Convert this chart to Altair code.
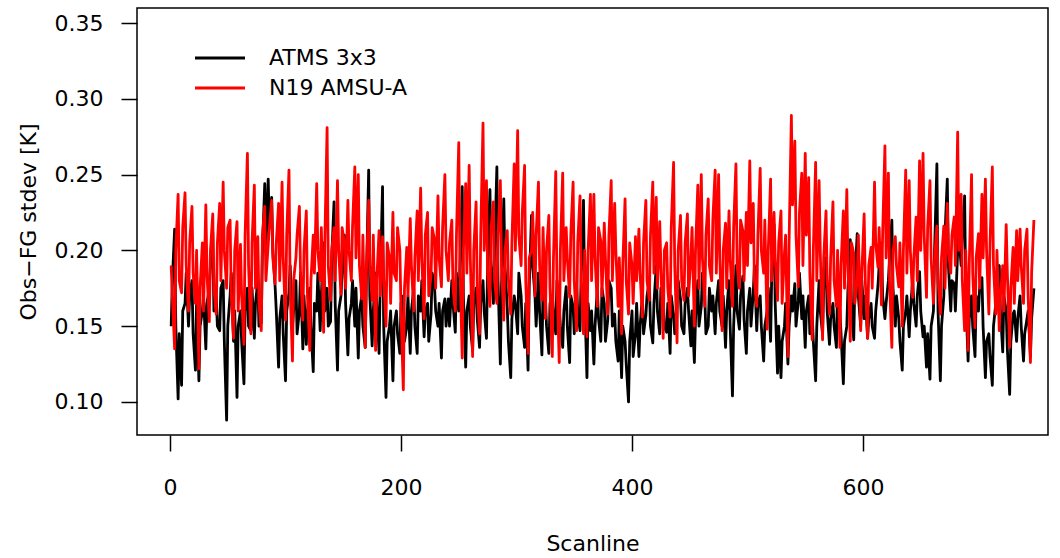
import altair as alt
import pandas as pd

# Values: main samples at scanlines 1, 4, 7, ... and
# in-between samples at scanlines 2, 5, 8, ...
names = ["ATMS 3x3", "N19 AMSU-A"]
colors = ["#000000", "#ff0000"]

atms = [
    0.150, 0.214, 0.102, 0.111, 0.165, 0.150, 0.180, 0.121, 0.114, 0.160,
    0.135, 0.175, 0.212, 0.170, 0.147, 0.180, 0.088, 0.170, 0.140, 0.103,
    0.160, 0.112, 0.175, 0.147, 0.142, 0.180, 0.152, 0.244, 0.247, 0.235,
    0.176, 0.123, 0.170, 0.114, 0.172, 0.150, 0.180, 0.160, 0.135, 0.138,
    0.175, 0.120, 0.160, 0.147, 0.205, 0.175, 0.153, 0.232, 0.121, 0.170,
    0.210, 0.131, 0.165, 0.150, 0.129, 0.170, 0.136, 0.253, 0.137, 0.185,
    0.132, 0.242, 0.103, 0.150, 0.114, 0.160, 0.132, 0.170, 0.150, 0.132,
    0.175, 0.132, 0.160, 0.143, 0.165, 0.158, 0.176, 0.150, 0.129, 0.168,
    0.168, 0.180, 0.146, 0.160, 0.242, 0.123, 0.170, 0.134, 0.175, 0.136,
    0.180, 0.142, 0.240, 0.165, 0.255, 0.125, 0.234, 0.162, 0.116, 0.170,
    0.145, 0.170, 0.136, 0.121, 0.223, 0.170, 0.185, 0.131, 0.170, 0.132,
    0.170, 0.145, 0.163, 0.136, 0.176, 0.126, 0.163, 0.177, 0.147, 0.233,
    0.116, 0.147, 0.125, 0.175, 0.140, 0.165, 0.154, 0.175, 0.158, 0.127,
    0.116, 0.140, 0.100, 0.160, 0.145, 0.130, 0.170, 0.157, 0.180, 0.139,
    0.190, 0.145, 0.170, 0.146, 0.132, 0.157, 0.165, 0.168, 0.145, 0.175,
    0.137, 0.126, 0.180, 0.163, 0.170, 0.150, 0.160, 0.145, 0.180, 0.150,
    0.136, 0.180, 0.104, 0.190, 0.148, 0.183, 0.132, 0.175, 0.172, 0.147,
    0.170, 0.127, 0.160, 0.140, 0.217, 0.119, 0.116, 0.150, 0.125, 0.170,
    0.178, 0.167, 0.155, 0.136, 0.170, 0.158, 0.114, 0.180, 0.145, 0.195,
    0.138, 0.165, 0.136, 0.160, 0.112, 0.150, 0.207, 0.141, 0.211, 0.150,
    0.155, 0.142, 0.165, 0.142, 0.177, 0.205, 0.155, 0.180, 0.220, 0.150,
    0.155, 0.121, 0.160, 0.143, 0.180, 0.150, 0.186, 0.143, 0.123, 0.115,
    0.160, 0.257, 0.114, 0.170, 0.247, 0.160, 0.178, 0.200, 0.190, 0.236,
    0.127, 0.170, 0.130, 0.160, 0.182, 0.116, 0.145, 0.111, 0.165, 0.190,
    0.133, 0.160, 0.105, 0.158, 0.140, 0.170, 0.127, 0.155, 0.130, 0.175,
]

atms_mid = [
    0.180, 0.150, 0.145, 0.160, 0.185, 0.170, 0.145, 0.165, 0.150, 0.170,
    0.165, 0.190, 0.160, 0.150, 0.175, 0.140, 0.150, 0.185, 0.160, 0.150,
    0.140, 0.160, 0.150, 0.175, 0.165, 0.150, 0.200, 0.200, 0.215, 0.200,
    0.160, 0.155, 0.145, 0.160, 0.190, 0.160, 0.145, 0.185, 0.170, 0.160,
    0.150, 0.165, 0.185, 0.170, 0.160, 0.150, 0.195, 0.165, 0.160, 0.185,
    0.165, 0.155, 0.180, 0.175, 0.160, 0.150, 0.180, 0.170, 0.160, 0.165,
    0.180, 0.150, 0.140, 0.160, 0.150, 0.145, 0.165, 0.140, 0.170, 0.160,
    0.150, 0.170, 0.180, 0.160, 0.140, 0.185, 0.160, 0.165, 0.160, 0.150,
    0.150, 0.165, 0.185, 0.190, 0.170, 0.160, 0.150, 0.165, 0.155, 0.165,
    0.160, 0.190, 0.190, 0.200, 0.180, 0.175, 0.190, 0.140, 0.155, 0.165,
    0.185, 0.150, 0.165, 0.175, 0.190, 0.150, 0.160, 0.175, 0.150, 0.165,
    0.160, 0.180, 0.150, 0.160, 0.150, 0.170, 0.145, 0.160, 0.185, 0.170,
    0.165, 0.160, 0.150, 0.155, 0.175, 0.140, 0.180, 0.150, 0.140, 0.160,
    0.150, 0.125, 0.140, 0.130, 0.165, 0.150, 0.145, 0.170, 0.150, 0.165,
    0.160, 0.175, 0.150, 0.165, 0.170, 0.145, 0.180, 0.150, 0.165, 0.160,
    0.160, 0.155, 0.150, 0.185, 0.145, 0.175, 0.170, 0.165, 0.160, 0.170,
    0.160, 0.150, 0.150, 0.160, 0.170, 0.155, 0.160, 0.150, 0.190, 0.165,
    0.150, 0.150, 0.175, 0.185, 0.165, 0.150, 0.140, 0.165, 0.150, 0.160,
    0.150, 0.185, 0.170, 0.160, 0.145, 0.140, 0.150, 0.160, 0.175, 0.160,
    0.155, 0.150, 0.175, 0.145, 0.140, 0.175, 0.165, 0.180, 0.170, 0.180,
    0.170, 0.155, 0.150, 0.160, 0.190, 0.170, 0.165, 0.195, 0.175, 0.170,
    0.140, 0.150, 0.170, 0.160, 0.165, 0.170, 0.160, 0.150, 0.145, 0.150,
    0.200, 0.160, 0.150, 0.210, 0.190, 0.180, 0.160, 0.210, 0.210, 0.170,
    0.155, 0.150, 0.170, 0.175, 0.150, 0.140, 0.130, 0.150, 0.180, 0.160,
    0.170, 0.135, 0.140, 0.160, 0.155, 0.150, 0.145, 0.160, 0.155,
]

n19 = [
    0.190, 0.135, 0.237, 0.172, 0.238, 0.160, 0.229, 0.165, 0.122, 0.205,
    0.230, 0.153, 0.224, 0.158, 0.231, 0.245, 0.175, 0.220, 0.142, 0.219,
    0.204, 0.138, 0.264, 0.145, 0.243, 0.209, 0.147, 0.229, 0.204, 0.233,
    0.178, 0.231, 0.245, 0.154, 0.253, 0.127, 0.195, 0.229, 0.154, 0.226,
    0.134, 0.210, 0.244, 0.180, 0.146, 0.281, 0.167, 0.215, 0.246, 0.171,
    0.205, 0.233, 0.180, 0.255, 0.250, 0.168, 0.136, 0.233, 0.167, 0.134,
    0.213, 0.209, 0.150, 0.195, 0.225, 0.180, 0.200, 0.108, 0.202, 0.221,
    0.160, 0.226, 0.241, 0.155, 0.225, 0.183, 0.207, 0.236, 0.176, 0.250,
    0.180, 0.220, 0.160, 0.271, 0.129, 0.244, 0.256, 0.130, 0.232, 0.145,
    0.284, 0.246, 0.163, 0.232, 0.165, 0.246, 0.154, 0.213, 0.158, 0.257,
    0.279, 0.190, 0.256, 0.132, 0.200, 0.170, 0.245, 0.167, 0.155, 0.223,
    0.130, 0.252, 0.126, 0.251, 0.215, 0.169, 0.245, 0.147, 0.236, 0.145,
    0.143, 0.237, 0.237, 0.163, 0.206, 0.218, 0.158, 0.246, 0.231, 0.163,
    0.145, 0.234, 0.158, 0.190, 0.209, 0.214, 0.156, 0.233, 0.167, 0.245,
    0.235, 0.219, 0.142, 0.205, 0.156, 0.258, 0.139, 0.223, 0.167, 0.224,
    0.196, 0.150, 0.243, 0.250, 0.163, 0.234, 0.180, 0.253, 0.250, 0.147,
    0.218, 0.226, 0.163, 0.257, 0.175, 0.213, 0.225, 0.259, 0.231, 0.163,
    0.254, 0.185, 0.148, 0.247, 0.225, 0.167, 0.226, 0.198, 0.130, 0.289,
    0.272, 0.176, 0.251, 0.264, 0.248, 0.141, 0.258, 0.246, 0.141, 0.226,
    0.158, 0.232, 0.163, 0.136, 0.226, 0.240, 0.140, 0.198, 0.180, 0.147,
    0.224, 0.142, 0.202, 0.245, 0.189, 0.164, 0.269, 0.251, 0.136, 0.209,
    0.176, 0.150, 0.253, 0.246, 0.169, 0.222, 0.259, 0.264, 0.169, 0.246,
    0.165, 0.216, 0.158, 0.216, 0.231, 0.185, 0.222, 0.278, 0.237, 0.147,
    0.134, 0.250, 0.149, 0.211, 0.237, 0.247, 0.158, 0.255, 0.158, 0.147,
    0.190, 0.217, 0.136, 0.202, 0.213, 0.214, 0.165, 0.214, 0.126, 0.220,
]

n19_mid = [
    0.170, 0.200, 0.180, 0.215, 0.190, 0.205, 0.185, 0.200, 0.175, 0.160,
    0.185, 0.200, 0.175, 0.205, 0.180, 0.200, 0.215, 0.170, 0.200, 0.160,
    0.170, 0.210, 0.190, 0.205, 0.175, 0.165, 0.210, 0.180, 0.215, 0.195,
    0.205, 0.180, 0.195, 0.210, 0.175, 0.180, 0.210, 0.185, 0.200, 0.170,
    0.180, 0.185, 0.200, 0.215, 0.205, 0.190, 0.200, 0.180, 0.200, 0.215,
    0.175, 0.200, 0.215, 0.195, 0.190, 0.210, 0.185, 0.190, 0.210, 0.180,
    0.170, 0.180, 0.205, 0.165, 0.185, 0.215, 0.160, 0.175, 0.170, 0.190,
    0.195, 0.180, 0.195, 0.210, 0.170, 0.215, 0.175, 0.195, 0.215, 0.200,
    0.205, 0.175, 0.210, 0.190, 0.200, 0.185, 0.195, 0.200, 0.175, 0.210,
    0.200, 0.185, 0.215, 0.180, 0.210, 0.190, 0.200, 0.180, 0.205, 0.200,
    0.210, 0.225, 0.180, 0.195, 0.225, 0.210, 0.190, 0.215, 0.200, 0.175,
    0.195, 0.180, 0.200, 0.180, 0.195, 0.210, 0.180, 0.205, 0.180, 0.200,
    0.200, 0.180, 0.195, 0.215, 0.170, 0.195, 0.210, 0.180, 0.200, 0.195,
    0.190, 0.180, 0.205, 0.165, 0.180, 0.185, 0.205, 0.180, 0.210, 0.185,
    0.175, 0.190, 0.200, 0.175, 0.215, 0.190, 0.200, 0.180, 0.205, 0.170,
    0.215, 0.200, 0.175, 0.195, 0.210, 0.190, 0.220, 0.185, 0.195, 0.200,
    0.175, 0.195, 0.215, 0.190, 0.220, 0.180, 0.190, 0.205, 0.180, 0.210,
    0.200, 0.220, 0.200, 0.180, 0.195, 0.205, 0.165, 0.210, 0.205, 0.230,
    0.210, 0.225, 0.190, 0.210, 0.185, 0.200, 0.180, 0.200, 0.195, 0.180,
    0.195, 0.180, 0.200, 0.190, 0.175, 0.190, 0.205, 0.165, 0.210, 0.185,
    0.180, 0.190, 0.175, 0.205, 0.215, 0.210, 0.195, 0.180, 0.200, 0.190,
    0.205, 0.200, 0.185, 0.200, 0.195, 0.180, 0.200, 0.210, 0.215, 0.195,
    0.195, 0.180, 0.195, 0.175, 0.200, 0.210, 0.190, 0.200, 0.180, 0.200,
    0.190, 0.185, 0.195, 0.175, 0.195, 0.200, 0.205, 0.190, 0.200, 0.170,
    0.160, 0.185, 0.175, 0.165, 0.180, 0.190, 0.200, 0.170, 0.185,
]

y_ticks = [0.10, 0.15, 0.20, 0.25, 0.30, 0.35]
x_ticks = [0, 200, 400, 600]


def series_frame(main, mid, name):
    scans, vals = [], []
    for i, v in enumerate(main):
        scans.append(1 + 3 * i)
        vals.append(v)
        if i < len(mid):
            scans.append(2 + 3 * i)
            vals.append(mid[i])
    return pd.DataFrame({"scan": scans, "val": vals, "series": name})


df_a = series_frame(atms, atms_mid, names[0])
df_n = series_frame(n19, n19_mid, names[1])

FONT = "DejaVu Sans"
FS = 22

xscale = alt.Scale(domain=[-28.6, 760.2], nice=False, zero=False)
yscale = alt.Scale(domain=[0.0782, 0.3599], nice=False, zero=False)
cscale = alt.Scale(domain=names, range=colors)

xaxis = alt.Axis(values=x_ticks, title="Scanline", grid=False, domain=False,
                 tickSize=16, tickWidth=1.5, tickColor="black", labelPadding=26,
                 labelFont=FONT, labelFontSize=FS, labelColor="black",
                 titleFont=FONT, titleFontSize=FS, titleFontWeight="normal",
                 titleColor="black", titlePadding=35)
yaxis = alt.Axis(values=y_ticks, format=".2f", title="Obs\u2212FG stdev [K]", grid=False,
                 domain=False, tickSize=16, tickWidth=1.5, tickColor="black",
                 labelPadding=18, labelFont=FONT, labelFontSize=FS, labelColor="black",
                 titleFont=FONT, titleFontSize=FS, titleFontWeight="normal",
                 titleColor="black", titlePadding=14)


def line(df):
    return alt.Chart(df).mark_line(strokeWidth=2.8, strokeJoin="round").encode(
        x=alt.X("scan:Q", scale=xscale, axis=xaxis),
        y=alt.Y("val:Q", scale=yscale, axis=yaxis),
        color=alt.Color("series:N", scale=cscale, legend=None),
    )


layers = [line(df_a), line(df_n)]

# legend drawn from the names/colors lists
for i, (nm, col) in enumerate(zip(names, colors)):
    yy = 50 + 30 * i
    layers.append(alt.Chart(pd.DataFrame({"n": [nm]})).mark_rule(color=col, strokeWidth=3).encode(
        x=alt.value(58), x2=alt.value(108), y=alt.value(yy)))
    layers.append(alt.Chart(pd.DataFrame({"n": [nm]})).mark_text(
        align="left", baseline="middle", font=FONT, fontSize=FS, color="black").encode(
        x=alt.value(132), y=alt.value(yy), text="n:N"))

chart = alt.layer(*layers).properties(
    width=911, height=427,
    autosize=alt.AutoSizeParams(type="none"),
    padding={"left": 137, "top": 8, "right": 12, "bottom": 123},
    background="white",
).configure_view(stroke="black", strokeWidth=1.5)

chart.save("out.html", embed_options={"renderer": "svg", "actions": False})
